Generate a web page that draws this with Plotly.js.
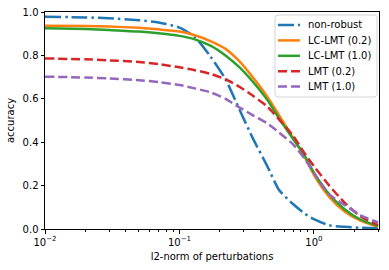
<!DOCTYPE html>
<html><head><meta charset="utf-8">
<script src="https://cdn.plot.ly/plotly-3.0.1.min.js"></script>
<style>html,body{margin:0;padding:0;background:#fff}#chart{width:389px;height:270px}</style>
</head><body><div id="chart"></div>
<script>
const norms = [0.01,0.02,0.03,0.05,0.07,0.1,0.13,0.17,0.22,0.28,0.35,0.45,0.55,0.7,0.85,1.0,1.3,1.7,2.2,3.0];
const nonRobust = [0.978,0.975,0.971,0.962,0.952,0.928,0.885,0.795,0.69,0.55,0.42,0.29,0.18,0.115,0.072,0.045,0.017,0.01,0.006,0.004];
const lcLmt02 = [0.937,0.935,0.933,0.927,0.92,0.91,0.893,0.866,0.83,0.772,0.70,0.61,0.525,0.42,0.335,0.25,0.148,0.08,0.04,0.01];
const lcLmt10 = [0.925,0.922,0.917,0.91,0.902,0.89,0.874,0.845,0.80,0.745,0.68,0.595,0.51,0.415,0.34,0.26,0.16,0.09,0.045,0.013];
const lmt02 = [0.786,0.782,0.777,0.77,0.76,0.745,0.732,0.715,0.69,0.655,0.615,0.565,0.505,0.43,0.35,0.29,0.20,0.12,0.06,0.018];
const lmt10 = [0.702,0.698,0.694,0.686,0.677,0.664,0.648,0.63,0.60,0.56,0.525,0.487,0.445,0.39,0.325,0.26,0.16,0.11,0.065,0.03];
const seriesNames = ['non-robust','LC-LMT (0.2)','LC-LMT (1.0)','LMT (0.2)','LMT (1.0)'];
const yTicks = [0,0.2,0.4,0.6,0.8,1.0];
const xTickVals = [0.01,0.1,1];
const xTickText = ['10<sup>−2</sup>','10<sup>−1</sup>','10<sup>0</sup>'];
const xMinorVals = [0.02,0.03,0.04,0.05,0.06,0.07,0.08,0.09,0.2,0.3,0.4,0.5,0.6,0.7,0.8,0.9,2,3];

const colors = ['#1f77b4','#ff7f0e','#2ca02c','#d62728','#9467bd'];
const dashes = ['16px,4px,2.5px,4px','solid','solid','9px,4px','9px,4px'];
const ys = [nonRobust,lcLmt02,lcLmt10,lmt02,lmt10];
const traces = ys.map((y,i)=>({
  x: norms, y: y, name: seriesNames[i], type:'scatter', mode:'lines', showlegend:false,
  line:{color:colors[i], width:2.5, dash:dashes[i], shape:'spline', smoothing:0.6}
}));

// plot area geometry (pixels) used to place the legend box
const W=389, H=270, ML=45, MR=10, MT=12, MB=41;
const PW=W-ML-MR, PH=H-MT-MB;
const px=x=>(x-ML)/PW, py=y=>(H-MB-y)/PH;

// legend built from shapes + annotations (matplotlib-like compact legend)
const shapes=[], annotations=[];
const bx0=275, bx1=377, by0=15, by1=97, r=3;
shapes.push({type:'path', xref:'paper', yref:'paper',
  path:`M ${px(bx0+r)},${py(by0)} L ${px(bx1-r)},${py(by0)} Q ${px(bx1)},${py(by0)} ${px(bx1)},${py(by0+r)} L ${px(bx1)},${py(by1-r)} Q ${px(bx1)},${py(by1)} ${px(bx1-r)},${py(by1)} L ${px(bx0+r)},${py(by1)} Q ${px(bx0)},${py(by1)} ${px(bx0)},${py(by1-r)} L ${px(bx0)},${py(by0+r)} Q ${px(bx0)},${py(by0)} ${px(bx0+r)},${py(by0)} Z`,
  fillcolor:'rgba(255,255,255,0.8)', line:{color:'#d5d5d5', width:1}, layer:'above'});
seriesNames.forEach((n,i)=>{
  const yy = 25 + i*15.4;
  shapes.push({type:'line', xref:'paper', yref:'paper', x0:px(278), x1:px(300), y0:py(yy), y1:py(yy),
    line:{color:colors[i], width:2.5, dash:dashes[i]}, layer:'above'});
  annotations.push({xref:'paper', yref:'paper', x:px(305.5), y:py(yy), xanchor:'left', yanchor:'middle',
    text:n, showarrow:false, font:{size:10, color:'#000'}});
});

const layout = {
  width:W, height:H,
  margin:{l:ML,r:MR,t:MT,b:MB},
  font:{family:'DejaVu Sans, sans-serif', size:10, color:'#000'},
  paper_bgcolor:'#fff', plot_bgcolor:'#fff',
  showlegend:false, shapes:shapes, annotations:annotations,
  xaxis:{type:'log', range:[-2, Math.log10(3.05)], tickmode:'array', tickvals:xTickVals, ticktext:xTickText,
    ticks:'outside', ticklen:3.5, tickcolor:'#000', showgrid:false, zeroline:false,
    showline:true, linecolor:'#000', linewidth:1, mirror:true,
    minor:{tickmode:'array', tickvals:xMinorVals, ticks:'outside', ticklen:2, tickcolor:'#000', showgrid:false},
    title:{text:'l2-norm of perturbations', font:{size:10}, standoff:6}},
  yaxis:{range:[0,1], tickmode:'array', tickvals:yTicks, ticktext:yTicks.map(v=>v.toFixed(1)),
    ticks:'outside', ticklen:3.5, tickcolor:'#000', showgrid:false, zeroline:false,
    showline:true, linecolor:'#000', linewidth:1, mirror:true,
    title:{text:'accuracy', font:{size:10}, standoff:6}}
};
Plotly.newPlot('chart', traces, layout, {displayModeBar:false, staticPlot:true});
</script></body></html>
